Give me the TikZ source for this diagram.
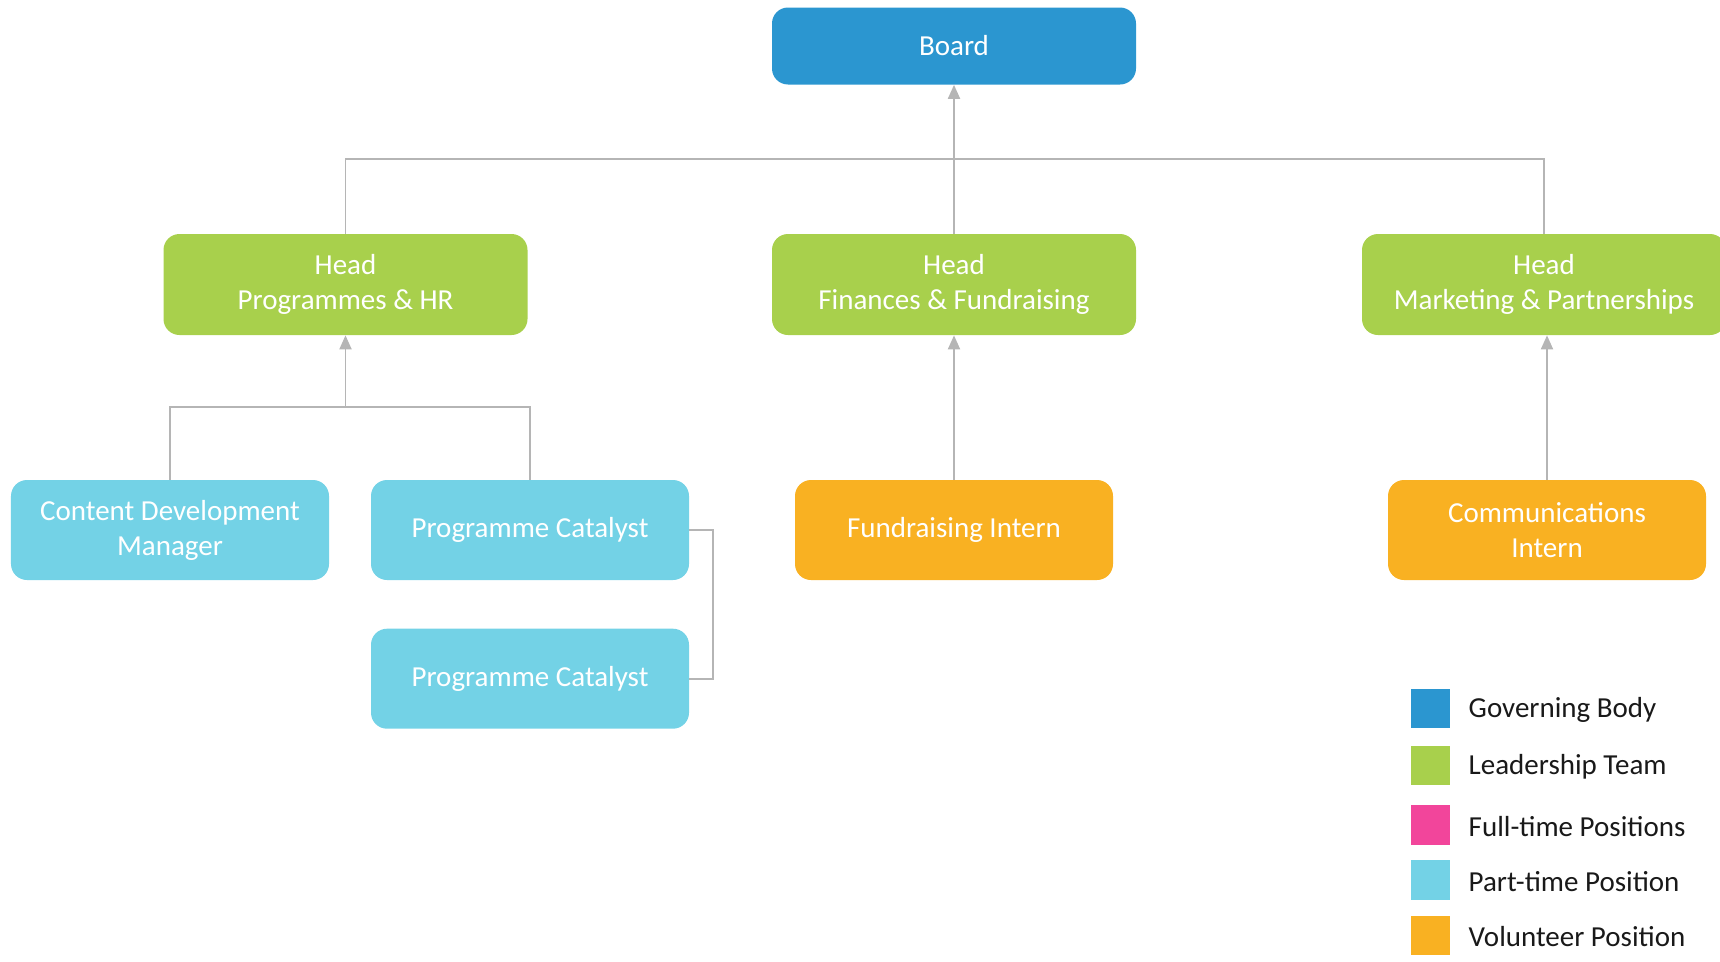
\documentclass[tikz,border=0pt]{standalone}
\usepackage{fontspec}
\setmainfont{Carlito}
\usetikzlibrary{arrows.meta, positioning}
\definecolor{boardBlue}{HTML}{2B96D0}
\definecolor{leadGreen}{HTML}{A8D04C}
\definecolor{partCyan}{HTML}{73D2E6}
\definecolor{volOrange}{HTML}{F9B122}
\definecolor{fullPink}{HTML}{F2459B}
\definecolor{linkGray}{HTML}{B5B5B5}

\begin{document}
\begin{tikzpicture}[
    box/.style={rounded corners=0.32cm, text=white, align=center, font=\fontsize{16.5}{20}\selectfont, inner sep=0pt},
    wide/.style={box, minimum width=7.28cm},
    narrow/.style={box, minimum width=6.36cm, minimum height=2cm},
    link/.style={linkGray, line width=1.1pt},
    arrow/.style={link, -{Triangle[width=0.24cm, length=0.28cm]}},
    swatch/.style={minimum size=0.79cm, inner sep=0pt},
    legtext/.style={anchor=west, font=\fontsize{16.5}{20}\selectfont, text=black!90}
  ]
  \useasboundingbox (0,0) rectangle (34.4,-19.22);

  % Nodes
  \node[wide, fill=boardBlue, minimum height=1.54cm] (board) at (19.08,-0.92) {Board};

  \node[wide, fill=leadGreen, minimum height=2.02cm] (progh) at (6.91,-5.69) {Head\\Programmes \& HR};
  \node[wide, fill=leadGreen, minimum height=2.02cm] (finh) at (19.08,-5.69) {Head\\Finances \& Fundraising};
  \node[wide, fill=leadGreen, minimum height=2.02cm] (markh) at (30.88,-5.69) {Head\\Marketing \& Partnerships};

  \node[narrow, fill=partCyan] (cdm) at (3.4,-10.6) {Content Development\\Manager};
  \node[narrow, fill=partCyan] (pc1) at (10.6,-10.6) {Programme Catalyst};
  \node[narrow, fill=partCyan, below=0.96cm of pc1] (pc2) {Programme Catalyst};
  \node[narrow, fill=volOrange] (fund) at (19.08,-10.6) {Fundraising Intern};
  \node[narrow, fill=volOrange] (comm) at (30.94,-10.6) {Communications\\Intern};

  % Legend
  \node[swatch, fill=boardBlue] (lg1) at (28.61,-14.17) {};
  \node[swatch, fill=leadGreen] (lg2) at (28.61,-15.31) {};
  \node[swatch, fill=fullPink] (lg3) at (28.61,-16.5) {};
  \node[swatch, fill=partCyan] (lg4) at (28.61,-17.6) {};
  \node[swatch, fill=volOrange] (lg5) at (28.61,-18.71) {};
  \node[legtext] at (29.25,-14.2) {Governing Body};
  \node[legtext] at (29.25,-15.34) {Leadership Team};
  \node[legtext] at (29.25,-16.53) {Full-time Positions};
  \node[legtext] at (29.25,-17.63) {Part-time Position};
  \node[legtext] at (29.25,-18.74) {Volunteer Position};

  % Connectors
  \coordinate (topbus) at (19.08,-3.18);
  \coordinate (progbus) at (6.91,-8.14);
  \draw[link] (progh.north) |- (topbus) -| (markh.north);
  \draw[arrow] (finh.north) -- (board.south);
  \draw[link] (cdm.north) |- (progbus) -| (pc1.north);
  \draw[arrow] (progbus) -- (progh.south);
  \draw[link] (pc1.east) -- ++(0.48,0) |- (pc2.east);
  \draw[arrow] (fund.north) -- (finh.south);
  \draw[arrow] (comm.north) -- (comm.north |- markh.south);
\end{tikzpicture}
\end{document}
